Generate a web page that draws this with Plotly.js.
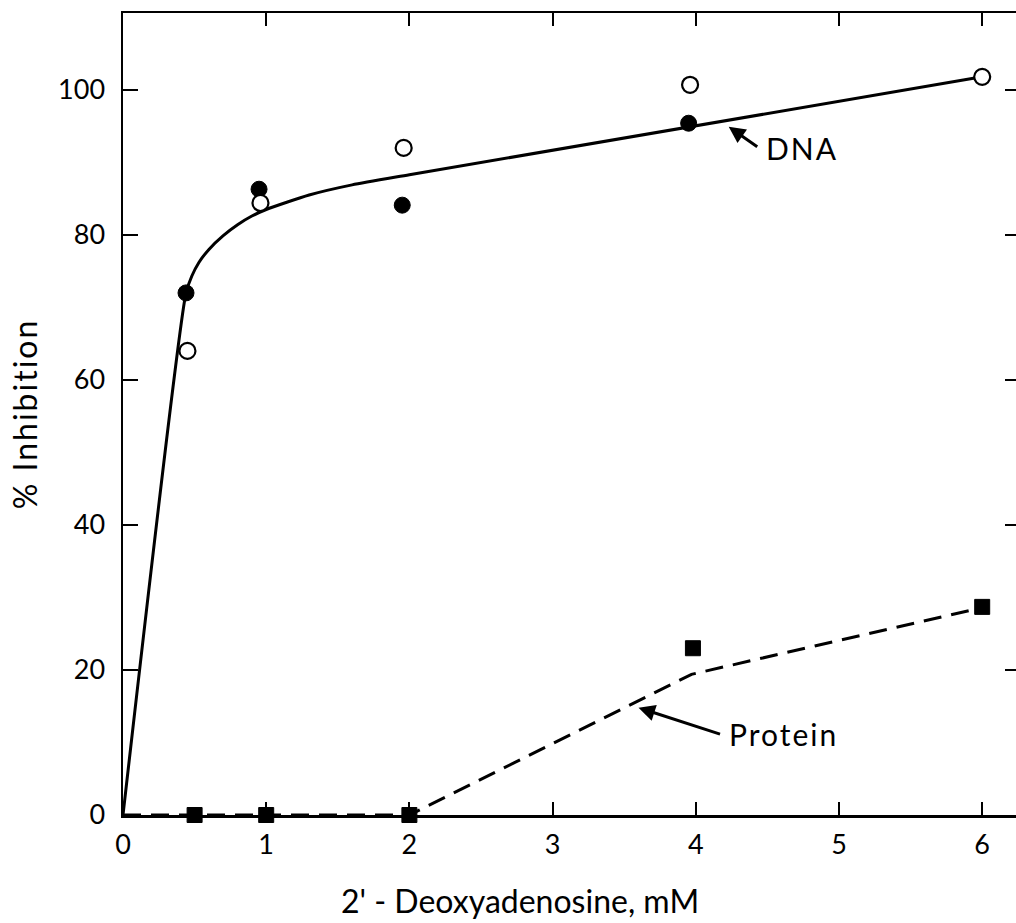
<!DOCTYPE html>
<html><head><meta charset="utf-8">
<script src="https://cdn.plot.ly/plotly-3.0.1.min.js"></script>
<style>html,body{margin:0;padding:0;background:#fff;overflow:hidden}</style>
</head><body><div id="chart" style="width:1020px;height:923px"></div>
<script>
// DNA, open circles
const dnaOpenX = [0.45, 0.96, 1.96, 3.96, 6.0];
const dnaOpenY = [64.0, 84.4, 92.0, 100.7, 101.8];
// DNA, filled circles
const dnaFilledX = [0.44, 0.95, 1.95, 3.95];
const dnaFilledY = [72.0, 86.3, 84.1, 95.4];
// DNA fitted curve (hand-drawn line)
const dnaCurveX = [0, 0.44, 0.48, 0.53, 0.60, 0.70, 0.80, 0.90, 1.00, 1.30, 1.60, 2.00, 6.0];
const dnaCurveY = [0, 72.0, 74.3, 76.2, 78.0, 79.9, 81.4, 82.6, 83.5, 85.5, 86.9, 88.3, 101.8];
// Protein, filled squares
const protX = [0.5, 1.0, 2.0, 3.98, 6.0];
const protY = [0, 0, 0, 23.0, 28.7];
// Protein dashed line
const protLineX = [0, 2.0, 3.97, 6.0];
const protLineY = [0, 0, 19.4, 28.6];

const xTicks = [0, 1, 2, 3, 4, 5, 6];
const yTicks = [0, 20, 40, 60, 80, 100];
const xTitle = "2' - Deoxyadenosine, mM";
const yTitle = '% Inhibition';

const FONT = 'Lato, "Open Sans", sans-serif';

const traces = [
  {x: dnaCurveX, y: dnaCurveY, mode: 'lines', line: {color: '#000', width: 3, shape: 'spline', smoothing: 0.6}, hoverinfo: 'skip'},
  {x: protLineX, y: protLineY, mode: 'lines', line: {color: '#000', width: 3, dash: '18px,10px'}, hoverinfo: 'skip'},
  {x: dnaFilledX, y: dnaFilledY, mode: 'markers', cliponaxis: false,
   marker: {symbol: 'circle', size: 16, color: '#000', line: {color: '#000', width: 1}}},
  {x: dnaOpenX, y: dnaOpenY, mode: 'markers', cliponaxis: false,
   marker: {symbol: 'circle', size: 16, color: '#fff', line: {color: '#000', width: 2.2}}},
  {x: protX, y: protY, mode: 'markers', cliponaxis: false,
   marker: {symbol: 'square', size: 15, color: '#000', line: {color: '#000', width: 1}}}
];

const layout = {
  width: 1020, height: 923,
  margin: {l: 123, r: 0, t: 13, b: 108},
  paper_bgcolor: '#fff', plot_bgcolor: '#fff',
  showlegend: false,
  font: {family: FONT, color: '#000', size: 27},
  xaxis: {
    range: [0, 6.264], tickvals: xTicks, ticktext: xTicks.map(String),
    ticks: 'inside', ticklen: 13, tickwidth: 2, tickcolor: '#000',
    showline: true, linecolor: '#000', linewidth: 2.5, mirror: 'ticks',
    showgrid: false, zeroline: false, ticklabelstandoff: 4,
    tickfont: {family: FONT, size: 27, color: '#000'}
  },
  yaxis: {
    range: [0, 110.6], tickvals: yTicks, ticktext: yTicks.map(String),
    ticks: 'inside', ticklen: 15, tickwidth: 2, tickcolor: '#000',
    showline: true, linecolor: '#000', linewidth: 2.5, mirror: 'ticks',
    showgrid: false, zeroline: false, ticklabelstandoff: 10,
    tickfont: {family: FONT, size: 27, color: '#000'},
    title: {text: yTitle, font: {family: FONT, size: 32, color: '#000'}, standoff: 11}
  },
  annotations: [
    {x: 0.4426, y: -0.106, xref: 'paper', yref: 'paper', text: xTitle, showarrow: false,
     xanchor: 'center', yanchor: 'middle', font: {family: FONT, size: 32, color: '#000'}},
    {x: 4.5, y: 92.0, xref: 'x', yref: 'y', text: 'DNA', showarrow: false, xanchor: 'left',
     font: {family: FONT, size: 30, color: '#000'}},
    {x: 4.23, y: 94.9, xref: 'x', yref: 'y', text: '', showarrow: true,
     ax: 30, ay: 21, arrowhead: 2, arrowsize: 1.1, arrowwidth: 3, arrowcolor: '#000'},
    {x: 4.61, y: 11.2, xref: 'x', yref: 'y', text: 'Protein', showarrow: false,
     font: {family: FONT, size: 30, color: '#000'}},
    {x: 3.6, y: 14.8, xref: 'x', yref: 'y', text: '', showarrow: true,
     ax: 83, ay: 27, arrowhead: 2, arrowsize: 1.1, arrowwidth: 3, arrowcolor: '#000'}
  ]
};

Plotly.newPlot('chart', traces, layout, {displayModeBar: false, staticPlot: true}).then(function () {
  const yt = document.querySelector('.ytitle');
  if (yt) yt.style.letterSpacing = '2px';
  document.querySelectorAll('.annotation-text').forEach(function (t, i) {
    if (i > 0) t.style.letterSpacing = '2px';
  });
});
</script></body></html>
